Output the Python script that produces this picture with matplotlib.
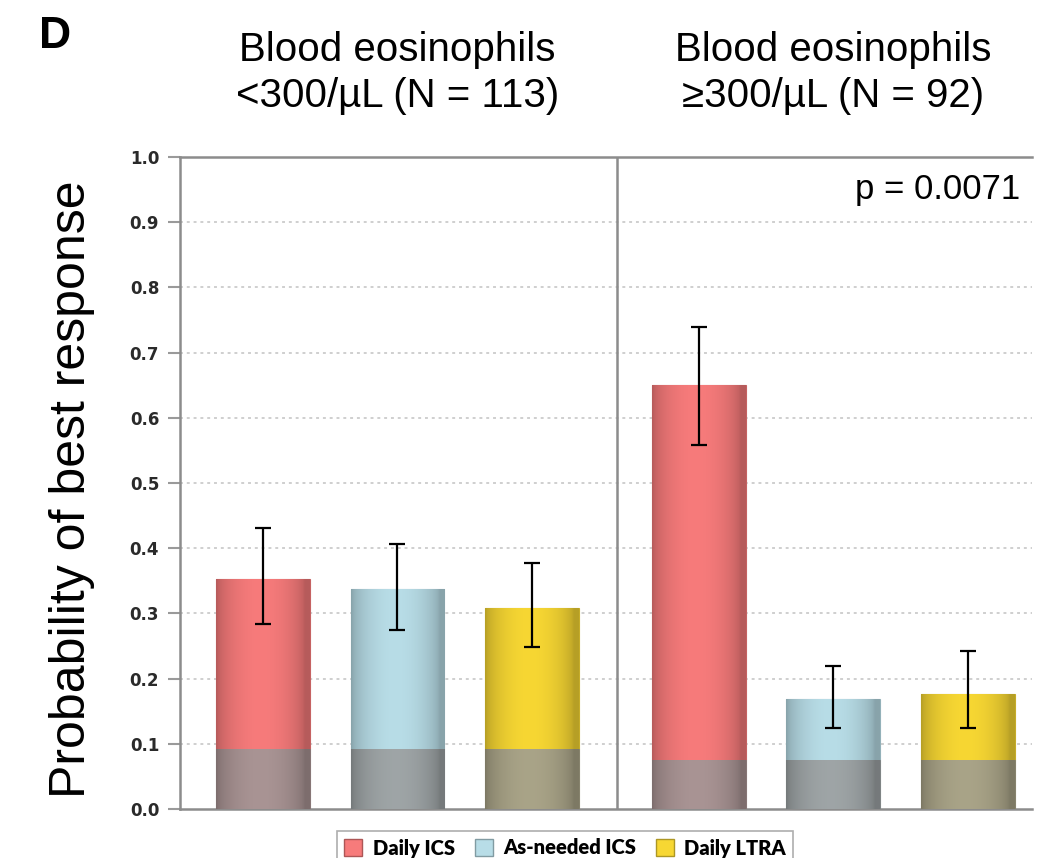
import numpy as np
import matplotlib
matplotlib.use("Agg")
import matplotlib.pyplot as plt
import matplotlib.transforms as mtransforms
from matplotlib.patches import Patch
from matplotlib.colors import to_rgb

# ---------------- data ----------------
treatments = ["Daily ICS", "As-needed ICS", "Daily LTRA"]
groups = ["Blood eosinophils\n<300/\u00b5L (N = 113)",
          "Blood eosinophils\n\u2265300/\u00b5L (N = 92)"]
# probability of best response (group 1 then group 2)
low_eos_prob = [0.352, 0.338, 0.308]
low_eos_err_hi = [0.431, 0.407, 0.377]
low_eos_err_lo = [0.284, 0.274, 0.248]
low_eos_base = [0.092, 0.092, 0.092]

high_eos_prob = [0.650, 0.169, 0.177]
high_eos_err_hi = [0.740, 0.220, 0.243]
high_eos_err_lo = [0.558, 0.125, 0.125]
high_eos_base = [0.075, 0.075, 0.075]

p_text = "p = 0.0071"
yticks = [0.0, 0.1, 0.2, 0.3, 0.4, 0.5, 0.6, 0.7, 0.8, 0.9, 1.0]

colors = ["#F77B7B", "#B8DDE7", "#F7D733"]
overlay_gray = np.array([0.60, 0.60, 0.60])
overlay_alpha = 0.83

# ---------------- figure ----------------
W, H = 1037, 858
fig = plt.figure(figsize=(W / 100, H / 100), dpi=100)
ax = fig.add_axes([180 / W, 1 - 809 / H, (1032 - 180) / W, (809 - 157) / H])

gap = 1.246
x_low = np.arange(3, dtype=float)
x_high = np.arange(3, dtype=float) + 2 + gap
xs = np.concatenate([x_low, x_high])
probs = np.array(low_eos_prob + high_eos_prob)
bases = np.array(low_eos_base + high_eos_base)
err_hi = np.array(low_eos_err_hi + high_eos_err_hi)
err_lo = np.array(low_eos_err_lo + high_eos_err_lo)
cols = colors * 2
width = 0.70


def shade(color, n=64):
    c = np.array(to_rgb(color))
    t = np.linspace(0, 1, n)
    prof = 0.74 + 0.26 * np.sin(np.pi * np.clip(t * 1.05, 0, 1)) ** 0.6
    img = np.clip(c[None, :] * prof[:, None], 0, 1)
    return img[None, :, :]


def darker(color, f=0.75):
    c = np.array(to_rgb(color))
    return tuple(c * f)


for x, p, b, c in zip(xs, probs, bases, cols):
    base_col = (1 - overlay_alpha) * np.array(to_rgb(c)) + overlay_alpha * overlay_gray
    top = ax.bar(x, p - b, width, bottom=b, color=c, edgecolor=darker(c, 0.8),
                 linewidth=0.8, zorder=3)[0]
    bot = ax.bar(x, b, width, bottom=0, color=base_col, edgecolor=darker(base_col, 0.8),
                 linewidth=0.8, zorder=3)[0]
    for patch, col in ((top, c), (bot, base_col)):
        x0, y0 = patch.get_x(), patch.get_y()
        im = ax.imshow(shade(col), extent=(x0, x0 + patch.get_width(), y0, y0 + patch.get_height()),
                       aspect="auto", zorder=3.5, interpolation="bicubic")
        im.set_clip_path(patch)

yerr = np.vstack([probs - err_lo, err_hi - probs])
ax.errorbar(xs, probs, yerr=yerr, fmt="none", ecolor="black", elinewidth=1.6,
            capsize=5.5, capthick=1.6, zorder=5)

# grid lines
for yt in yticks[1:-1]:
    ax.axhline(yt, color="#cfcfcf", lw=1.4, ls=(0, (1.5, 2.0)), zorder=1)

# divider
div_x = x_low[-1] + 0.634
ax.axvline(div_x, color="#8c8c8c", lw=1.8, zorder=2)

ax.set_xlim(-0.62, x_high[-1] + 0.48)
ax.set_ylim(0, 1.0)
ax.set_yticks(yticks)
ax.set_yticklabels([f"{v:.1f}" for v in yticks], fontsize=12, fontweight="bold",
                   color="#2a2a2a", family="DejaVu Sans")
ax.tick_params(axis="y", direction="out", length=9, width=1.5, color="#9a9a9a", pad=6)
ax.set_xticks([])
for s in ["left", "top", "bottom"]:
    ax.spines[s].set_color("#8c8c8c")
    ax.spines[s].set_linewidth(1.8)
ax.spines["right"].set_visible(False)

# texts
trans = mtransforms.blended_transform_factory(ax.transData, fig.transFigure)
for gx, g in zip([x_low.mean(), x_high.mean()], groups):
    ax.text(gx, 1 - 73 / H, g, transform=trans,
            ha="center", va="center", fontsize=29, family="Liberation Sans",
            linespacing=1.25)

fig.text(39 / W, 1 - 37 / H, "D", fontsize=32, fontweight="bold", family="Liberation Sans",
         ha="left", va="center")
fig.text(1020 / W, 1 - 190 / H, p_text, fontsize=25, family="Liberation Sans",
         ha="right", va="center")
fig.text(72 / W, 1 - 489 / H, "Probability of best response", fontsize=36,
         family="Liberation Sans", rotation=90, ha="center", va="center")

handles = [Patch(facecolor=c, edgecolor=darker(c, 0.7), linewidth=1.0) for c in colors]
leg = fig.legend(handles, treatments, loc="center", bbox_to_anchor=(565 / W, 1 - 848 / H),
                 ncol=3, frameon=True, fancybox=False, edgecolor="#9a9a9a",
                 prop={"family": "Lato", "weight": "heavy", "size": 14.5},
                 handlelength=0.9, handleheight=0.9, handletextpad=0.5,
                 columnspacing=1.0, borderpad=0.35)
leg.get_frame().set_linewidth(1.2)

fig.savefig("out.png", dpi=100)
